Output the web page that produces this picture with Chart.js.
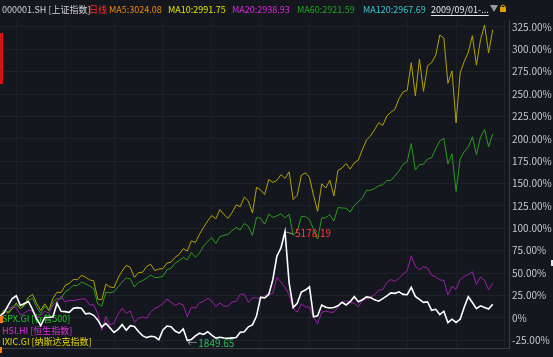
<!DOCTYPE html>
<html><head><meta charset="utf-8">
<script src="https://cdn.jsdelivr.net/npm/chart.js@4.4.1/dist/chart.umd.min.js"></script>
<style>html,body{margin:0;padding:0;background:#14171e;overflow:hidden}canvas{display:block}</style>
</head><body>
<div style="width:553px;height:357px;position:relative"><canvas id="c" width="553" height="357"></canvas></div>
<script>
// ---------- DATA ----------
const categories = ["2009/09/01",
 "2009/09","2009/10","2009/11","2009/12",
 "2010/01","2010/02","2010/03","2010/04","2010/05","2010/06","2010/07","2010/08","2010/09","2010/10","2010/11","2010/12",
 "2011/01","2011/02","2011/03","2011/04","2011/05","2011/06","2011/07","2011/08","2011/09","2011/10","2011/11","2011/12",
 "2012/01","2012/02","2012/03","2012/04","2012/05","2012/06","2012/07","2012/08","2012/09","2012/10","2012/11","2012/12",
 "2013/01","2013/02","2013/03","2013/04","2013/05","2013/06","2013/07","2013/08","2013/09","2013/10","2013/11","2013/12",
 "2014/01","2014/02","2014/03","2014/04","2014/05","2014/06","2014/07","2014/08","2014/09","2014/10","2014/11","2014/12",
 "2015/01","2015/02","2015/03","2015/04","2015/05","2015/06","2015/07","2015/08","2015/09","2015/10","2015/11","2015/12",
 "2016/01","2016/02","2016/03","2016/04","2016/05","2016/06","2016/07","2016/08","2016/09","2016/10","2016/11","2016/12",
 "2017/01","2017/02","2017/03","2017/04","2017/05","2017/06","2017/07","2017/08","2017/09","2017/10","2017/11","2017/12",
 "2018/01","2018/02","2018/03","2018/04","2018/05","2018/06","2018/07","2018/08","2018/09","2018/10","2018/11","2018/12",
 "2019/01","2019/02","2019/03","2019/04","2019/05","2019/06","2019/07","2019/08","2019/09"];
const trailingGap = ["", "", "", ""];

// % change since 2009/09/01
const sh000001 = [2.0,
 5.7, 13.9, 21.5, 24.6,
 13.7, 16.0, 18.2, 9.1, -1.4, -8.8, 0.3, 0.3, 1.0, 16.0, 7.2, 6.8,
 6.1, 10.5, 11.3, 10.7, 4.3, 5.0, 2.7, -2.4, -10.3, -6.2, -11.3, -16.4,
 -12.9, -7.7, -14.0, -8.9, -9.8, -15.4, -20.0, -22.2, -20.7, -21.3, -24.7, -13.7,
 -9.3, -10.0, -14.9, -17.2, -12.5, -25.5, -24.2, -20.2, -17.3, -18.6, -15.6, -19.5,
 -22.7, -21.8, -22.7, -23.0, -22.5, -22.1, -16.3, -15.7, -10.1, -8.0, 2.0, 23.0,
 22.1, 25.9, 42.5, 68.9, 78.0, 96.4, 39.0, 11.3, 16.1, 28.6, 31.0, 34.6,
 1.0, 2.2, 14.2, 11.7, 10.9, 11.4, 13.3, 17.3, 14.3, 17.9, 23.6, 18.0,
 20.1, 23.3, 22.5, 20.0, 18.5, 21.4, 24.4, 27.8, 27.3, 29.0, 26.1, 25.7,
 34.0, 23.9, 20.5, 17.2, 17.7, 8.3, 9.4, 3.6, 7.3, -5.5, -1.6, -5.2,
 -1.7, 11.8, 23.5, 17.0, 10.2, 13.3, 11.5, 9.7, 15.2];

const spx = [2.0,
 8.4, 6.3, 12.4, 14.4,
 10.2, 13.2, 19.9, 21.7, 11.7, 5.0, 13.0, 7.6, 17.0, 21.3, 21.1, 29.0,
 31.9, 36.1, 36.0, 39.9, 37.9, 35.5, 32.5, 15.5, 13.0, 28.5, 27.9, 29.0,
 34.6, 40.1, 44.4, 43.4, 34.4, 39.7, 41.4, 44.3, 47.8, 44.8, 45.2, 46.3,
 53.6, 55.4, 60.9, 63.9, 67.3, 64.7, 72.9, 67.5, 72.5, 80.2, 85.2, 89.5,
 82.9, 90.7, 92.0, 93.2, 97.3, 101.0, 98.1, 105.4, 102.3, 92.0, 112.1, 111.2,
 104.6, 115.9, 112.1, 113.9, 116.1, 111.6, 115.8, 92.0, 96.9, 113.2, 113.3, 109.6,
 99.0, 88.0, 111.3, 111.8, 115.1, 108.0, 123.0, 122.7, 122.4, 118.1, 125.5, 129.6,
 133.7, 142.5, 142.4, 144.5, 147.4, 148.5, 153.3, 153.5, 158.4, 164.1, 171.6, 174.3,
 194.7, 165.0, 171.0, 171.6, 177.4, 178.8, 188.8, 197.6, 200.6, 172.0, 183.1, 141.1,
 177.3, 185.5, 190.7, 202.2, 182.3, 201.7, 210.4, 191.0, 205.5];

const hsi = [1.4,
 6.9, 11.0, 11.3, 11.6,
 2.7, 5.1, 8.4, 7.7, 0.8, 2.7, 7.3, 4.8, 14.1, 17.8, 24.0, 17.5,
 19.6, 19.1, 20.0, 21.0, 20.8, 14.3, 14.5, 4.8, -14.0, 1.3, -8.2, -5.9,
 4.0, 10.6, 4.9, 7.6, -4.9, -0.8, 1.0, -0.6, 6.3, 10.4, 12.4, 15.6,
 21.1, 17.4, 13.8, 16.0, 14.2, 1.1, 11.7, 10.9, 16.6, 18.4, 21.8, 18.9,
 12.4, 16.5, 13.0, 12.9, 17.8, 18.3, 26.3, 26.2, 17.0, 22.4, 22.4, 20.4,
 25.0, 26.7, 27.0, 45.0, 39.9, 33.9, 25.7, 10.6, 6.4, 15.5, 12.2, 11.8,
 0.4, -6.5, 6.0, 7.5, 6.2, 6.1, 11.7, 17.2, 18.9, 17.0, 16.3, 12.2,
 19.2, 21.1, 23.0, 25.6, 30.9, 31.5, 39.4, 42.7, 40.6, 44.1, 48.9, 52.7,
 69.2, 57.4, 53.5, 57.2, 55.5, 47.7, 45.8, 42.3, 41.8, 25.4, 35.2, 31.9,
 42.6, 46.1, 48.2, 51.5, 37.3, 45.6, 41.7, 31.3, 38.5];

const ixic = [1.0,
 8.8, 4.9, 10.0, 16.4,
 10.1, 14.8, 23.0, 26.2, 15.7, 8.2, 15.6, 8.4, 21.5, 28.6, 28.1, 36.1,
 38.5, 42.7, 42.6, 47.4, 45.4, 42.3, 41.3, 21.0, 20.0, 37.6, 34.4, 33.6,
 44.3, 52.2, 58.6, 56.2, 45.0, 50.5, 50.8, 57.3, 59.8, 52.7, 54.4, 54.9,
 61.1, 62.1, 67.6, 70.7, 77.2, 74.5, 85.9, 84.1, 93.4, 101.0, 108.2, 114.2,
 110.5, 120.9, 115.3, 111.0, 117.6, 126.1, 124.1, 134.9, 130.4, 117.0, 145.7, 142.9,
 137.7, 154.6, 151.3, 153.4, 160.0, 155.7, 163.0, 132.0, 136.9, 159.2, 162.0, 156.8,
 136.6, 119.0, 149.7, 144.9, 153.7, 136.0, 164.7, 167.3, 172.4, 166.1, 173.0, 176.1,
 188.0, 198.7, 203.2, 210.2, 217.9, 214.9, 225.5, 229.7, 233.1, 245.0, 252.5, 254.0,
 284.9, 248.0, 289.0, 253.0, 281.6, 285.1, 293.4, 315.9, 312.6, 262.0, 275.9, 217.6,
 273.4, 286.3, 296.4, 315.1, 282.2, 310.6, 327.2, 296.0, 322.0];

const yTicks = [-25, 0, 25, 50, 75, 100, 125, 150, 175, 200, 225, 250, 275, 300, 325];
const shHigh = "5178.19";
const shLow = "1849.65";

const titleItems = [
  {t: "000001.SH [上证指数]", x: 2,   c: "#d4d4d4"},
  {t: "日线",                 x: 89,  c: "#ff2a2a"},
  {t: "MA5:3024.08",          x: 109, c: "#f08a10"},
  {t: "MA10:2991.75",         x: 168, c: "#e2e200"},
  {t: "MA20:2938.93",         x: 232, c: "#e028e0"},
  {t: "MA60:2921.59",         x: 297, c: "#1fa81f"},
  {t: "MA120:2967.69",        x: 363, c: "#3cc4d0"},
  {t: "2009/09/01-...",       x: 431, c: "#e6e6e6", u: true}
];
const legendItems = [
  {t: "SPX.GI [标普500]",       y: 319, c: "#22c822"},
  {t: "HSI.HI [恒生指数]",      y: 331, c: "#e02ee0"},
  {t: "IXIC.GI [纳斯达克指数]", y: 342, c: "#e6d800"}
];

// ---------- DRAW ----------
const FONT = '"Noto Sans CJK SC", "Noto Sans", sans-serif';
const BG = "#14171e";

const deco = {
  id: "deco",
  beforeDraw(chart) {
    const ctx = chart.ctx; ctx.save();
    ctx.fillStyle = BG; ctx.fillRect(0, 0, chart.width, chart.height);
    ctx.restore();
  },
  beforeDatasetsDraw(chart) {
    const ctx = chart.ctx; ctx.save();
    ctx.font = "9px " + FONT; ctx.textBaseline = "middle"; ctx.textAlign = "left";
    legendItems.forEach(it => { ctx.fillStyle = it.c; ctx.fillText(it.t, 2, it.y); });
    ctx.restore();
  },
  afterDatasetsDraw(chart) {
    const ctx = chart.ctx; ctx.save();
    const meta = chart.getDatasetMeta(0);
    let iMax = 0, iMin = 0;
    sh000001.forEach((v, i) => { if (v > sh000001[iMax]) iMax = i; if (v < sh000001[iMin]) iMin = i; });
    const pH = meta.data[iMax], pL = meta.data[iMin];
    ctx.font = "10px " + FONT; ctx.textBaseline = "middle"; ctx.textAlign = "left";
    ctx.strokeStyle = "#9a9a9a"; ctx.lineWidth = 1;
    ctx.beginPath(); ctx.moveTo(pH.x + 1, pH.y + 0.5); ctx.lineTo(pH.x + 8, pH.y + 2.5); ctx.stroke();
    ctx.fillStyle = "#ff3a3a"; ctx.fillText(shHigh, pH.x + 10, pH.y + 2);
    ctx.fillStyle = "#9a9a9a"; ctx.fillText("←", pL.x, pL.y + 3);
    ctx.fillStyle = "#22c05a"; ctx.fillText(shLow, pL.x + 11, pL.y + 3);
    ctx.restore();
  },
  afterDraw(chart) {
    const ctx = chart.ctx; ctx.save();
    ctx.font = "9px " + FONT; ctx.textBaseline = "middle"; ctx.textAlign = "left";
    titleItems.forEach(it => {
      ctx.fillStyle = it.c; ctx.fillText(it.t, it.x, 9.5);
      if (it.u) { const w = ctx.measureText(it.t).width; ctx.fillRect(it.x, 15, w, 1); }
    });
    // dropdown triangle
    ctx.fillStyle = "#9a9a9a";
    ctx.beginPath(); ctx.moveTo(490, 5); ctx.lineTo(498, 5); ctx.lineTo(494, 12); ctx.closePath(); ctx.fill();
    // lock icon
    ctx.strokeStyle = "#e0a000"; ctx.lineWidth = 1;
    ctx.beginPath(); ctx.arc(503, 7, 2, Math.PI, 0); ctx.stroke();
    ctx.fillStyle = "#e0a000"; ctx.fillRect(500, 7, 6, 5);
    // left side markers
    ctx.fillStyle = "#d41414"; ctx.fillRect(0, 33, 3, 51);
    ctx.fillStyle = "#ff7a10"; ctx.fillRect(0, 316, 3, 7);
    ctx.fillRect(0, 347, 2, 6);
    // right marker
    ctx.fillStyle = "#e8e8e8"; ctx.fillRect(551, 260, 2, 6);
    ctx.restore();
  }
};

new Chart(document.getElementById("c"), {
  type: "line",
  data: {
    labels: categories.concat(trailingGap),
    datasets: [
      {label: "000001.SH", data: sh000001, borderColor: "#ffffff", borderWidth: 1.6},
      {label: "HSI.HI", data: hsi, borderColor: "#a01eac", borderWidth: 1},
      {label: "SPX.GI", data: spx, borderColor: "#2a9c1a", borderWidth: 1},
      {label: "IXIC.GI", data: ixic, borderColor: "#b4a400", borderWidth: 1}
    ]
  },
  options: {
    responsive: false, animation: false, devicePixelRatio: 1,
    layout: {padding: {top: 20, left: 0, right: 0, bottom: 0}},
    elements: {point: {radius: 0}, line: {tension: 0}},
    plugins: {legend: {display: false}, tooltip: {enabled: false}},
    scales: {
      x: {
        type: "category", offset: false,
        ticks: {display: false, autoSkip: false},
        afterBuildTicks: ax => { ax.ticks = ax.ticks.filter(t => t.value % 12 === 4); },
        afterFit: ax => { ax.height = 3; },
        grid: {color: "#1c2029", drawTicks: false},
        border: {display: true, color: "#383c46"}
      },
      y: {
        position: "right", min: -33.8, max: 332.7,
        afterBuildTicks: ax => { ax.ticks = yTicks.map(v => ({value: v})); },
        afterFit: ax => { ax.width = 44; },
        ticks: {
          color: "#c8c8c8", padding: 3, autoSkip: false,
          font: {size: 10, family: FONT},
          callback: v => v === 0 ? "0%" : v.toFixed(2) + "%"
        },
        grid: {color: "#1e222b", drawTicks: false},
        border: {display: true, color: "#383c46"}
      }
    }
  },
  plugins: [deco]
});
</script>
</body></html>
